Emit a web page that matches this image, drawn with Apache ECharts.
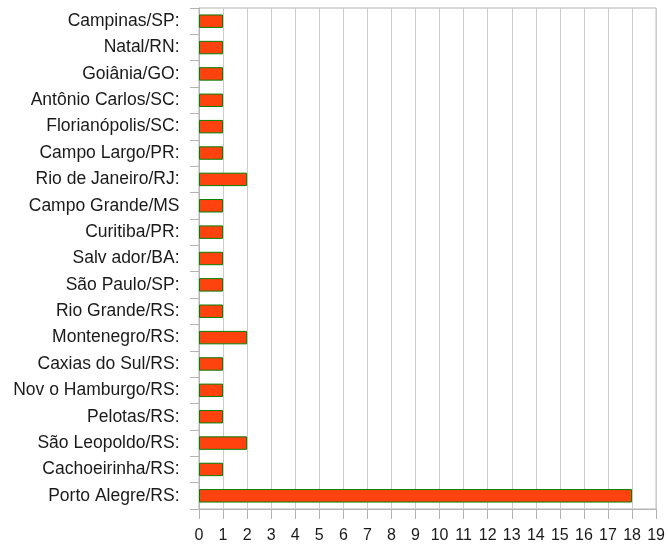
<!DOCTYPE html>
<html><head><meta charset="utf-8">
<script src="https://cdn.jsdelivr.net/npm/echarts@6/dist/echarts.min.js"></script>
<style>html,body{margin:0;padding:0;background:#fff}#c{width:668px;height:544px}</style>
</head><body><div id="c"></div>
<script>
const categories = ["Campinas/SP:","Natal/RN:","Goiânia/GO:","Antônio Carlos/SC:","Florianópolis/SC:","Campo Largo/PR:","Rio de Janeiro/RJ:","Campo Grande/MS","Curitiba/PR:","Salv ador/BA:","São Paulo/SP:","Rio Grande/RS:","Montenegro/RS:","Caxias do Sul/RS:","Nov o Hamburgo/RS:","Pelotas/RS:","São Leopoldo/RS:","Cachoeirinha/RS:","Porto Alegre/RS:"];
const values = [1,1,1,1,1,1,2,1,1,1,1,1,2,1,1,1,2,1,18];
const chart = echarts.init(document.getElementById('c'));
chart.setOption({
  animation:false,
  grid:{left:199,top:8,right:9.5,bottom:35,show:true,borderColor:'#b3b3b3',borderWidth:1},
  xAxis:{type:'value',min:0,max:19,interval:1,
    axisLine:{show:true,lineStyle:{color:'#b3b3b3'}},
    axisTick:{show:true,length:10,lineStyle:{color:'#b3b3b3'}},
    splitLine:{show:true,lineStyle:{color:'#cccccc'}},
    axisLabel:{color:'#1a1a1a',fontFamily:'Liberation Sans',fontSize:16,margin:19}},
  yAxis:{type:'category',data:categories,inverse:true,
    axisLine:{show:true,lineStyle:{color:'#b3b3b3'}},
    axisTick:{show:true,length:9,lineStyle:{color:'#b3b3b3'}},
    axisLabel:{color:'#1a1a1a',fontFamily:'Liberation Sans',fontSize:17.5,margin:19.5}},
  series:[{type:'bar',data:values,barCategoryGap:'49%',
    itemStyle:{color:'#ff420e',borderColor:'#008000',borderWidth:1}}]
});
</script></body></html>
